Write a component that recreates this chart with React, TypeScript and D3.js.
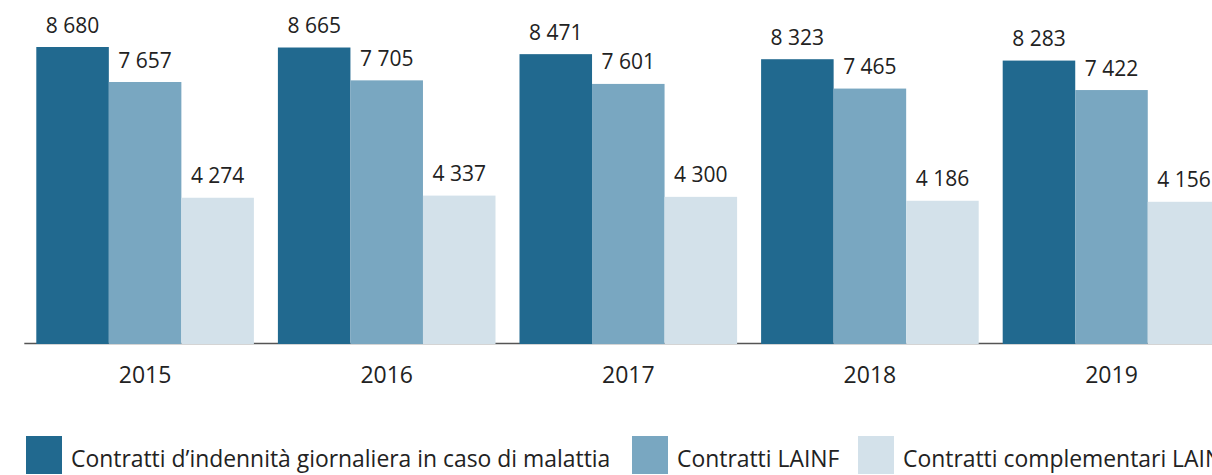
import React, { useEffect, useRef } from 'react';
import * as d3 from 'd3';

// years on the x axis
const years = ['2015', '2016', '2017', '2018', '2019'];

// number of contracts per series
const malattia = [8680, 8665, 8471, 8323, 8283];
const lainf = [7657, 7705, 7601, 7465, 7422];
const complementari = [4274, 4337, 4300, 4186, 4156];

const seriesNames = [
  'Contratti d\u2019indennità giornaliera in caso di malattia',
  'Contratti LAINF',
  'Contratti complementari LAINF',
];
const seriesColors = ['#21698f', '#79a7c1', '#d3e1ea'];

const W = 1212;
const H = 475;
const FONT = '"Open Sans", "Noto Sans", sans-serif';

const fmt = (v: number) => d3.format(',')(v).replace(/,/g, ' ');

export default function App() {
  const ref = useRef<SVGSVGElement>(null);

  useEffect(() => {
    const svg = d3.select(ref.current);
    svg.selectAll('*').remove();

    const series = [malattia, lainf, complementari];
    const rows = years.map((y, i) => ({ year: y, values: series.map((s) => s[i]) }));

    const step = 241.6;
    const x0 = d3
      .scaleBand()
      .domain(years)
      .range([24.3, 24.3 + step * years.length])
      .paddingInner(24 / step)
      .paddingOuter(12 / step);

    const x1 = d3
      .scaleBand<number>()
      .domain([0, 1, 2])
      .range([0, x0.bandwidth()]);

    const y = d3.scaleLinear().domain([0, 8680]).range([344, 47]);

    // baseline
    svg
      .append('line')
      .attr('x1', x0.range()[0])
      .attr('x2', W)
      .attr('y1', y(0) - 0.5)
      .attr('y2', y(0) - 0.5)
      .attr('stroke', '#555')
      .attr('stroke-width', 1.4);

    const g = svg
      .selectAll('g.grp')
      .data(rows)
      .enter()
      .append('g')
      .attr('class', 'grp')
      .attr('transform', (d) => `translate(${x0(d.year)},0)`);

    g.selectAll('rect')
      .data((d) => d.values)
      .enter()
      .append('rect')
      .attr('x', (_d, i) => x1(i)!)
      .attr('width', x1.bandwidth())
      .attr('y', (d) => y(d))
      .attr('height', (d) => y(0) - y(d))
      .attr('fill', (_d, i) => seriesColors[i]);

    g.selectAll('text.val')
      .data((d) => d.values)
      .enter()
      .append('text')
      .attr('class', 'val')
      .attr('x', (_d, i) => x1(i)! + x1.bandwidth() / 2)
      .attr('y', (d) => y(d) - 14.5)
      .attr('text-anchor', 'middle')
      .attr('font-family', FONT)
      .attr('font-size', 21)
      .attr('fill', '#222')
      .text((d) => fmt(d));

    // year labels
    svg
      .append('g')
      .selectAll('text')
      .data(years)
      .enter()
      .append('text')
      .attr('x', (d) => x0(d)! + x0.bandwidth() / 2)
      .attr('y', 383)
      .attr('text-anchor', 'middle')
      .attr('font-family', FONT)
      .attr('font-size', 23)
      .attr('fill', '#222')
      .text((d) => d);

    // legend
    const legendX = [26, 632, 858];
    const leg = svg
      .append('g')
      .selectAll('g')
      .data(seriesNames)
      .enter()
      .append('g')
      .attr('transform', (_d, i) => `translate(${legendX[i]},436)`);
    leg
      .append('rect')
      .attr('width', 36)
      .attr('height', 38)
      .attr('fill', (_d, i) => seriesColors[i]);
    leg
      .append('text')
      .attr('x', 45)
      .attr('y', 31)
      .attr('font-family', FONT)
      .attr('font-size', 22.9)
      .attr('fill', '#222')
      .text((d) => d);
  }, []);

  return (
    <div style={{ position: 'fixed', left: 0, top: 0, width: W, height: H, background: '#fff' }}>
      <svg ref={ref} width={W} height={H} style={{ display: 'block' }} />
    </div>
  );
}
